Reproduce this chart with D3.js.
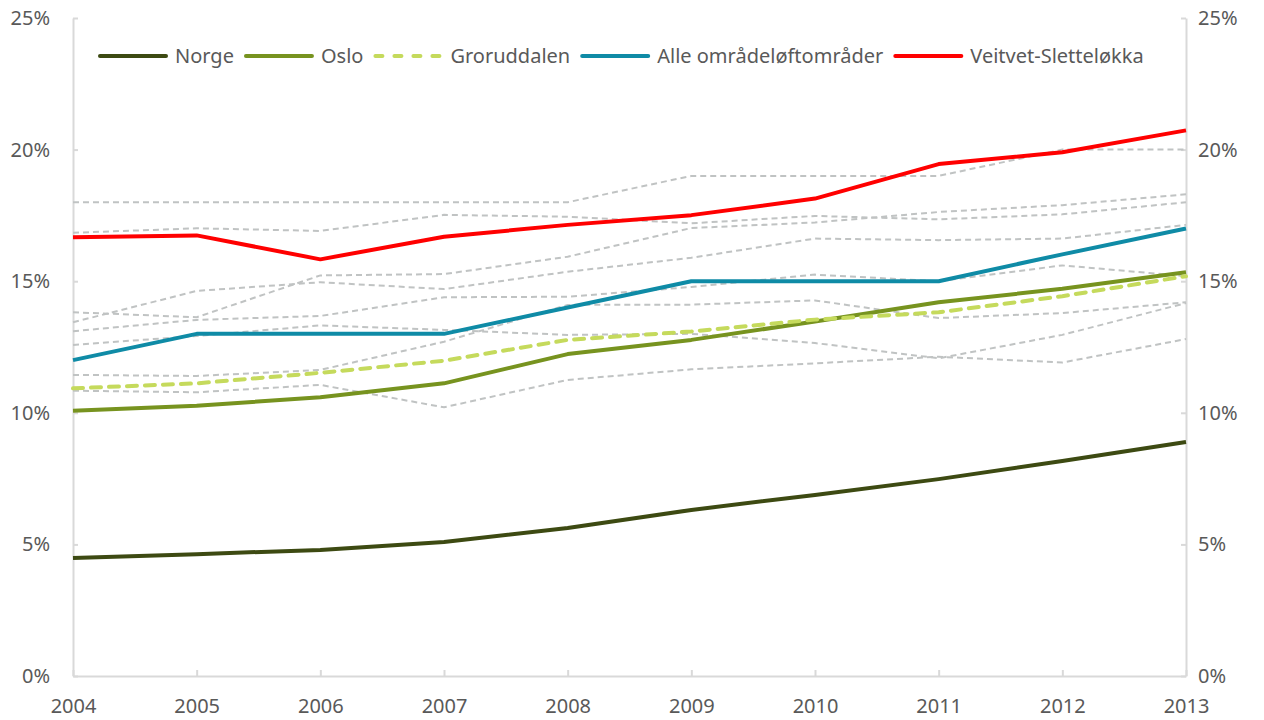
<!DOCTYPE html>
<html>
<head>
<meta charset="utf-8">
<script src="https://cdn.jsdelivr.net/npm/d3@7"></script>
<style>
    body { margin: 0; background: #fff; }
    text { font-family: "Noto Sans", "Open Sans", sans-serif; fill: #595959; }
    .axis path, .axis line { stroke: #d9d9d9; stroke-width: 2; }
    .axis text { font-size: 20px; }
</style>
</head>
<body>
<script>
//years on the x axis
var years = [2004, 2005, 2006, 2007, 2008, 2009, 2010, 2011, 2012, 2013];

//percent ticks
var yTicks = [0, 5, 10, 15, 20, 25];

//main series (percent)
var norge = [4.48, 4.63, 4.79, 5.09, 5.62, 6.31, 6.88, 7.48, 8.17, 8.89];
var oslo = [10.08, 10.27, 10.59, 11.12, 12.23, 12.77, 13.47, 14.2, 14.71, 15.34];
var groruddalen = [10.93, 11.12, 11.52, 11.98, 12.77, 13.09, 13.54, 13.82, 14.43, 15.19];
var alleOmrader = [12.0, 13.0, 13.0, 13.0, 14.0, 15.0, 15.0, 15.0, 16.02, 17.0];
var veitvet = [16.67, 16.74, 15.83, 16.69, 17.14, 17.51, 18.14, 19.45, 19.9, 20.73];

//the other area lines (grey, dashed)
var omrA = [18.0, 18.0, 18.0, 18.0, 18.0, 19.0, 19.0, 19.0, 20.0, 20.0];
var omrB = [16.84, 17.01, 16.91, 17.52, 17.45, 17.2, 17.48, 17.35, 17.54, 18.0];
var omrC = [13.82, 13.63, 15.22, 15.27, 15.93, 17.02, 17.23, 17.63, 17.89, 18.3];
var omrD = [13.44, 14.63, 14.96, 14.7, 15.36, 15.89, 16.62, 16.56, 16.62, 17.14];
var omrE = [13.1, 13.53, 13.68, 14.39, 14.41, 14.78, 15.25, 15.0, 15.6, 15.19];
var omrF = [12.58, 12.92, 13.32, 13.15, 12.96, 13.0, 12.65, 12.07, 12.96, 14.17];
var omrG = [11.44, 11.4, 11.63, 12.7, 14.1, 14.11, 14.27, 13.6, 13.79, 14.2];
var omrH = [10.84, 10.78, 11.06, 10.21, 11.25, 11.65, 11.88, 12.13, 11.91, 12.8];

var greyLines = [omrA, omrB, omrC, omrD, omrE, omrF, omrG, omrH];

var mainSeries = [
    { name: "Norge", values: norge, color: "#3d4a12", dash: null },
    { name: "Oslo", values: oslo, color: "#77931f", dash: null },
    { name: "Groruddalen", values: groruddalen, color: "#c5da5c", dash: "10,8" },
    { name: "Alle områdeløftområder", values: alleOmrader, color: "#0f8ba6", dash: null },
    { name: "Veitvet-Sletteløkka", values: veitvet, color: "#ff0000", dash: null }
];

window.onload = function(){
    var w = 1264, h = 720;
    var margin = { top: 18, right: 78, bottom: 44, left: 73 };

    var svg = d3.select("body")
        .append("svg")
        .attr("width", w)
        .attr("height", h);

    var x = d3.scaleLinear()
        .domain([2004, 2013])
        .range([margin.left, w - margin.right]);

    var y = d3.scaleLinear()
        .domain([0, 25])
        .range([h - margin.bottom, margin.top]);

    //axes
    svg.append("g")
        .attr("class", "axis")
        .attr("transform", "translate(" + margin.left + ",0)")
        .call(d3.axisLeft(y).tickValues(yTicks).tickSize(-5).tickSizeOuter(0).tickPadding(23)
            .tickFormat(function(d){ return d + "%"; }));

    svg.append("g")
        .attr("class", "axis")
        .attr("transform", "translate(" + (w - margin.right) + ",0)")
        .call(d3.axisRight(y).tickValues(yTicks).tickSize(-5).tickSizeOuter(0).tickPadding(12)
            .tickFormat(function(d){ return d + "%"; }));

    svg.append("g")
        .attr("class", "axis")
        .attr("transform", "translate(0," + (h - margin.bottom) + ")")
        .call(d3.axisBottom(x).tickValues(years).tickSize(-6).tickSizeOuter(0).tickPadding(23)
            .tickFormat(d3.format("d")));

    svg.selectAll(".axis text").attr("fill", "#595959");

    var line = d3.line()
        .x(function(d, i){ return x(years[i]); })
        .y(function(d){ return y(d); });

    //grey comparison lines
    svg.selectAll(".grey")
        .data(greyLines)
        .enter()
        .append("path")
        .attr("class", "grey")
        .attr("d", line)
        .style("fill", "none")
        .style("stroke", "#c0c3c3")
        .style("stroke-width", 2)
        .style("stroke-dasharray", "6,4");

    //highlighted series
    svg.selectAll(".series")
        .data(mainSeries)
        .enter()
        .append("path")
        .attr("class", "series")
        .attr("d", function(d){ return line(d.values); })
        .style("fill", "none")
        .style("stroke", function(d){ return d.color; })
        .style("stroke-width", 4)
        .style("stroke-linejoin", "round")
        .style("stroke-linecap", function(d){ return d.dash ? "round" : "butt"; })
        .style("stroke-dasharray", function(d){ return d.dash; });

    //legend, items laid out one after another
    var legend = svg.append("g")
        .attr("class", "legend")
        .attr("transform", "translate(98,56)");

    var cursor = 0;
    mainSeries.forEach(function(s){
        var item = legend.append("g")
            .attr("transform", "translate(" + cursor + ",0)");

        item.append("line")
            .attr("x1", 2)
            .attr("x2", 68)
            .style("stroke", s.color)
            .style("stroke-width", 4)
            .style("stroke-linecap", "round")
            .style("stroke-dasharray", s.dash ? "7,12" : null);

        var label = item.append("text")
            .attr("x", 77)
            .attr("y", 7)
            .style("font-size", "20px")
            .text(s.name);

        cursor += 77 + label.node().getComputedTextLength() + 10;
    });
};
</script>
</body>
</html>
